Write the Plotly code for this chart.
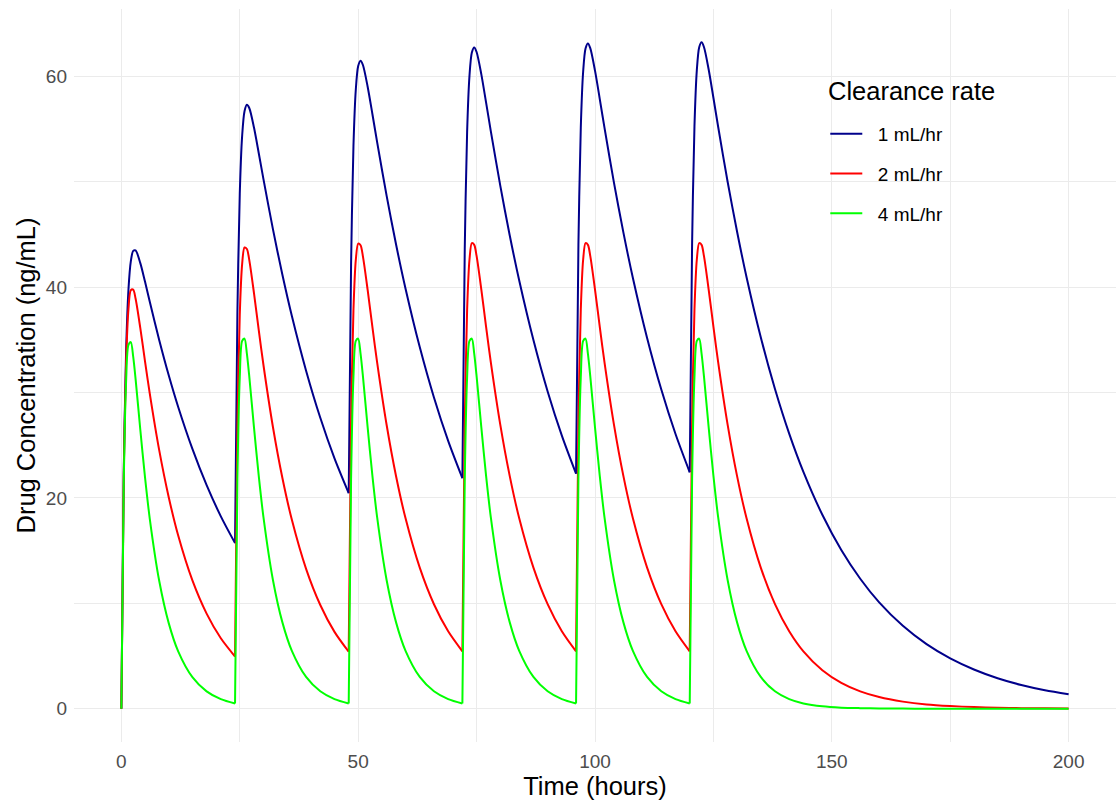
import plotly.graph_objects as go

# Time points (hours)
hours = [
    0, 0.5, 1, 1.5, 2, 2.5, 3, 4, 5, 6, 8, 10, 12, 15, 18, 21,
    24, 24.5, 25, 25.5, 26, 26.5, 27, 28, 29, 30, 32, 34, 36, 39, 42, 45,
    48, 48.5, 49, 49.5, 50, 50.5, 51, 52, 53, 54, 56, 58, 60, 63, 66, 69,
    72, 72.5, 73, 73.5, 74, 74.5, 75, 76, 77, 78, 80, 82, 84, 87, 90, 93,
    96, 96.5, 97, 97.5, 98, 98.5, 99, 100, 101, 102, 104, 106, 108, 111, 114, 117,
    120, 120.5, 121, 121.5, 122, 122.5, 123, 124, 125, 126, 128, 130, 132, 135, 138, 141,
    144, 148, 152, 156, 160, 165, 170, 175, 180, 185, 190, 195, 200,
]

# Dose times where the curve restarts (sharp corner)
dose_times = [24, 48, 72, 96, 120]

conc_1ml = [
    0, 22.25, 33.91, 39.78, 42.47, 43.44, 43.48, 42.28, 40.50, 38.61, 34.97, 31.64, 28.63, 24.65, 21.21, 18.25,
    15.71, 37.57, 48.86, 54.35, 56.69, 57.30, 57.00, 55.14, 52.73, 50.25, 45.50, 41.17, 37.25, 32.07, 27.60, 23.75,
    20.45, 42.20, 53.37, 58.75, 60.98, 61.49, 61.08, 59.02, 56.43, 53.76, 48.68, 44.04, 39.85, 34.31, 29.53, 25.41,
    21.87, 43.58, 54.72, 60.07, 62.26, 62.74, 62.31, 60.19, 57.53, 54.81, 49.63, 44.90, 40.63, 34.98, 30.10, 25.91,
    22.30, 44.00, 55.13, 60.46, 62.65, 63.12, 62.68, 60.54, 57.87, 55.13, 49.92, 45.17, 40.87, 35.18, 30.28, 26.06,
    22.43, 44.13, 55.25, 60.59, 62.77, 63.23, 62.79, 60.65, 57.97, 55.22, 50.00, 45.25, 40.94, 35.24, 30.33, 26.10,
    22.47, 18.40, 15.06, 12.33, 10.09, 7.86, 6.12, 4.77, 3.72, 2.89, 2.25, 1.75, 1.37,
]

conc_2ml = [
    0, 21.95, 32.93, 37.93, 39.71, 39.76, 38.92, 36.11, 32.94, 29.90, 24.51, 20.07, 16.43, 12.17, 9.02, 6.68,
    4.95, 26.66, 37.41, 42.19, 43.76, 43.62, 42.59, 39.43, 35.95, 32.61, 26.73, 21.89, 17.92, 13.27, 9.84, 7.29,
    5.40, 27.09, 37.81, 42.58, 44.13, 43.97, 42.92, 39.73, 36.22, 32.86, 26.94, 22.06, 18.06, 13.38, 9.91, 7.34,
    5.44, 27.13, 37.86, 42.62, 44.17, 44.01, 42.96, 39.77, 36.25, 32.89, 26.96, 22.07, 18.07, 13.39, 9.92, 7.35,
    5.44, 27.13, 37.86, 42.62, 44.17, 44.01, 42.96, 39.77, 36.25, 32.89, 26.96, 22.07, 18.07, 13.39, 9.92, 7.35,
    5.44, 27.13, 37.86, 42.62, 44.17, 44.01, 42.96, 39.77, 36.25, 32.89, 26.96, 22.07, 18.07, 13.39, 9.92, 7.35,
    5.44, 3.65, 2.45, 1.64, 1.10, 0.67, 0.40, 0.25, 0.15, 0.09, 0.05, 0.03, 0.02,
]

conc_4ml = [
    0, 21.36, 31.05, 34.53, 34.78, 33.40, 31.29, 26.47, 21.92, 18.02, 12.11, 8.12, 5.44, 2.99, 1.64, 0.90,
    0.49, 21.81, 31.46, 34.90, 35.11, 33.70, 31.56, 26.69, 22.11, 18.17, 12.21, 8.19, 5.49, 3.01, 1.65, 0.91,
    0.50, 21.81, 31.46, 34.90, 35.11, 33.70, 31.56, 26.69, 22.11, 18.17, 12.21, 8.19, 5.49, 3.01, 1.65, 0.91,
    0.50, 21.81, 31.46, 34.90, 35.11, 33.70, 31.56, 26.69, 22.11, 18.17, 12.21, 8.19, 5.49, 3.01, 1.65, 0.91,
    0.50, 21.81, 31.46, 34.90, 35.11, 33.70, 31.56, 26.69, 22.11, 18.17, 12.21, 8.19, 5.49, 3.01, 1.65, 0.91,
    0.50, 21.81, 31.46, 34.90, 35.11, 33.70, 31.56, 26.69, 22.11, 18.17, 12.21, 8.19, 5.49, 3.01, 1.65, 0.91,
    0.50, 0.22, 0.10, 0.05, 0.02, 0.01, 0.00, 0.00, 0.00, 0.00, 0.00, 0.00, 0.00,
]

series_names = ["1 mL/hr", "2 mL/hr", "4 mL/hr"]
series_values = [conc_1ml, conc_2ml, conc_4ml]
series_colors = ["#00008B", "#FF0000", "#00FF00"]
legend_title = "Clearance rate"

x_ticks = [0, 50, 100, 150, 200]
y_ticks = [0, 20, 40, 60]

FONT = "Liberation Sans, Arial, sans-serif"
TITLE_SIZE = 25.5
TEXT_SIZE = 19


def segmented(t, c):
    """Split each series at dose times so each dosing interval is its own smooth piece."""
    xs, ys = [], []
    for ti, ci in zip(t, c):
        if ti in dose_times:
            xs += [ti, None]
            ys += [ci, None]
        xs.append(ti)
        ys.append(ci)
    return xs, ys


fig = go.Figure()
for i, (name, vals, col) in enumerate(zip(series_names, series_values, series_colors)):
    xs, ys = segmented(hours, vals)
    fig.add_trace(go.Scatter(
        x=xs, y=ys, mode="lines", name="\u00a0\u00a0" + name,
        line=dict(color=col, width=2, shape="spline", smoothing=0.8),
        connectgaps=False, legendgroup=f"g{i}",
    ))

x_min, x_max = min(hours), max(hours)
all_vals = conc_1ml + conc_2ml + conc_4ml
y_min, y_max = min(all_vals), max(all_vals)
xpad = 0.05 * (x_max - x_min)
ypad = 0.05 * (y_max - y_min)

fig.add_annotation(
    text=legend_title, xref="paper", yref="paper", x=0.7215, y=0.8881,
    xanchor="left", yanchor="middle", showarrow=False,
    font=dict(size=TITLE_SIZE, color="black", family=FONT),
)

fig.update_layout(
    width=1117, height=805,
    margin=dict(l=74, r=1, t=9, b=63),
    paper_bgcolor="white", plot_bgcolor="white",
    font=dict(family=FONT, color="black"),
    legend=dict(
        x=0.721, y=0.8554, xanchor="left", yanchor="top",
        bgcolor="rgba(0,0,0,0)",
        font=dict(size=TEXT_SIZE, color="black", family=FONT),
        tracegroupgap=12, itemwidth=32, traceorder="grouped",
    ),
    xaxis=dict(
        range=[x_min - xpad, x_max + xpad],
        tickmode="array", tickvals=x_ticks, ticktext=[str(v) for v in x_ticks],
        showgrid=True, gridcolor="#EBEBEB", gridwidth=1.2,
        minor=dict(tickmode="array", tickvals=[25, 75, 125, 175], showgrid=True, gridcolor="#EBEBEB", gridwidth=0.8),
        zeroline=False, showline=False, ticks="",
        tickfont=dict(size=TEXT_SIZE, color="#4D4D4D", family=FONT),
        ticklabelstandoff=6,
        title=dict(text="Time (hours)", font=dict(size=TITLE_SIZE, color="black", family=FONT), standoff=3),
    ),
    yaxis=dict(
        range=[y_min - ypad, y_max + ypad],
        tickmode="array", tickvals=y_ticks, ticktext=[str(v) for v in y_ticks],
        showgrid=True, gridcolor="#EBEBEB", gridwidth=1.2,
        minor=dict(tickmode="array", tickvals=[10, 30, 50], showgrid=True, gridcolor="#EBEBEB", gridwidth=0.8),
        zeroline=False, showline=False, ticks="",
        tickfont=dict(size=TEXT_SIZE, color="#4D4D4D", family=FONT),
        ticklabelstandoff=6,
        title=dict(text="Drug Concentration (ng/mL)", font=dict(size=TITLE_SIZE, color="black", family=FONT), standoff=2),
    ),
)

fig.write_html("out.html")
